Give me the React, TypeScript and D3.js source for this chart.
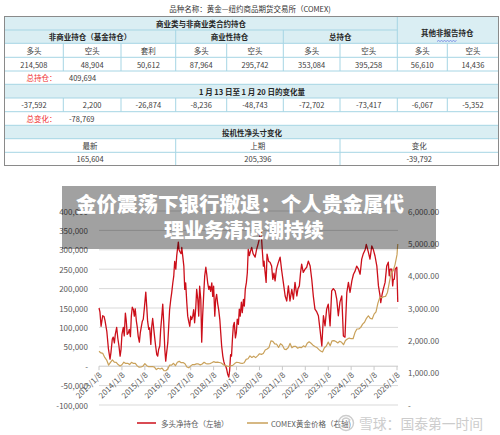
import React from "react";
import * as d3 from "d3";

// ---------- table data ----------
const tableTitle = "品种名称：黄金—纽约商品期货交易所（COMEX)";
const groupTop = "商业类与非商业类合约持仓";
const groupOther = "其他非报告持仓";
const groupHeaders = ["非商业持仓（基金持仓）", "商业性持仓", "总持仓"];
const colHeaders = ["多头", "空头", "套利", "多头", "空头", "多头", "空头", "多头", "空头"];
const positions = [214508, 48904, 50612, 87964, 295742, 353084, 395258, 56610, 14436];
const totalLabel = "总持仓：";
const totalPositions = 409694;
const changeTitle = "1 月 13 日至 1 月 20 日的变化量";
const changes = [-37592, 2200, -26874, -8236, -48743, -72702, -73417, -6067, -5352];
const totalChangeLabel = "总变化：";
const totalChange = -78769;
const netTitle = "投机性净头寸变化";
const netHeaders = ["最新", "上期", "变化"];
const netSummary = [165604, 205396, -39792];

const headline = ["金价震荡下银行撤退：个人贵金属代", "理业务清退潮持续"];

// ---------- chart data ----------
const leftTicks = [-100000, -50000, 0, 50000, 100000, 150000, 200000, 250000, 300000, 350000, 400000];
const rightTicks = [0, 1000, 2000, 3000, 4000, 5000, 6000];
const yearTicks = [2013, 2014, 2015, 2016, 2017, 2018, 2019, 2020, 2021, 2022, 2023, 2024, 2025, 2026];
const legendNames = ["多头净持仓（左轴）", "COMEX黄金价格（右轴)"];
const watermark = "雪球：国泰第一时间";

// net long (contracts), decimal-year dates
const netYears = [
  2013.02, 2013.06, 2013.11, 2013.18, 2013.24, 2013.28, 2013.36, 2013.43, 2013.5, 2013.54, 2013.6, 2013.64, 2013.69, 2013.73, 2013.79, 2013.84, 2013.89, 2013.94, 2013.98,
  2014.02, 2014.08, 2014.12, 2014.17, 2014.21, 2014.25, 2014.3, 2014.34, 2014.39, 2014.43, 2014.47, 2014.52, 2014.56, 2014.6, 2014.65, 2014.69, 2014.73, 2014.78, 2014.82, 2014.87, 2014.91, 2014.95,
  2015.0, 2015.06, 2015.1, 2015.14, 2015.19, 2015.23, 2015.28, 2015.32, 2015.36, 2015.41, 2015.45, 2015.49, 2015.54, 2015.58, 2015.62, 2015.67, 2015.71, 2015.76, 2015.8, 2015.84, 2015.89, 2015.93, 2015.97,
  2016.02, 2016.06, 2016.1, 2016.15, 2016.19, 2016.24, 2016.28, 2016.32, 2016.37, 2016.41, 2016.45, 2016.48, 2016.51, 2016.55, 2016.6, 2016.63, 2016.67, 2016.72, 2016.76, 2016.8, 2016.85, 2016.89, 2016.93, 2016.98,
  2017.02, 2017.06, 2017.11, 2017.15, 2017.19, 2017.24, 2017.28, 2017.33, 2017.37, 2017.41, 2017.46, 2017.5, 2017.54, 2017.59, 2017.63, 2017.68, 2017.72, 2017.76, 2017.81, 2017.85, 2017.89, 2017.94, 2017.98,
  2018.02, 2018.07, 2018.11, 2018.15, 2018.2, 2018.24, 2018.29, 2018.33, 2018.37, 2018.42, 2018.46, 2018.5, 2018.55, 2018.59, 2018.63, 2018.68, 2018.72, 2018.76, 2018.8, 2018.84, 2018.88, 2018.92, 2018.97,
  2019.01, 2019.05, 2019.1, 2019.14, 2019.18, 2019.23, 2019.27, 2019.32, 2019.36, 2019.4, 2019.45, 2019.49, 2019.53, 2019.58, 2019.62, 2019.68, 2019.74, 2019.83, 2019.89, 2019.96,
  2020.01, 2020.09, 2020.14, 2020.19, 2020.22, 2020.26, 2020.31, 2020.35, 2020.42, 2020.48, 2020.55, 2020.6, 2020.65, 2020.7, 2020.76, 2020.83, 2020.92, 2020.99,
  2021.06, 2021.14, 2021.21, 2021.28, 2021.35, 2021.43, 2021.5, 2021.57, 2021.65, 2021.7, 2021.76, 2021.81, 2021.86, 2021.93,
  2022.01, 2022.08, 2022.15, 2022.23, 2022.3, 2022.37, 2022.44, 2022.52, 2022.59, 2022.66, 2022.74, 2022.81, 2022.88, 2022.95,
  2023.02, 2023.1, 2023.17, 2023.24, 2023.32, 2023.39, 2023.46, 2023.53, 2023.61, 2023.68, 2023.75, 2023.83, 2023.9, 2023.97,
  2024.05, 2024.12, 2024.19, 2024.26, 2024.34, 2024.41, 2024.48, 2024.55, 2024.63, 2024.68, 2024.77, 2024.84, 2024.92, 2024.99,
  2025.06, 2025.14, 2025.21, 2025.28, 2025.31, 2025.37, 2025.42, 2025.5, 2025.57, 2025.64, 2025.68, 2025.72, 2025.79, 2025.83, 2025.86, 2025.9, 2025.94,
  2026.01, 2026.035, 2026.053,
];
const netLongs = [
  150000, 140000, 103000, 130000, 128000, 118000, 90000, 45000, 18000, 35000, 70000, 75000, 60000, 82000, 100000, 72000, 52000, 26000, 43000,
  82000, 100000, 78000, 137000, 116000, 82000, 86000, 95000, 76000, 129000, 152000, 146000, 129000, 148000, 116000, 100000, 77000, 62000, 86000, 103000, 116000, 121000,
  151000, 191000, 155000, 116000, 95000, 99000, 56000, 103000, 123000, 95000, 73000, 52000, 30000, 26000, 43000, 52000, 95000, 129000, 160000, 116000, 43000, 13000, 35000,
  60000, 103000, 146000, 172000, 189000, 215000, 232000, 270000, 250000, 285000, 305000, 320000, 300000, 295000, 290000, 306000, 285000, 258000, 198000, 215000, 163000, 129000, 116000, 103000,
  129000, 120000, 129000, 146000, 112000, 150000, 198000, 172000, 129000, 206000, 172000, 62000, 129000, 189000, 232000, 255000, 237000, 215000, 198000, 206000, 193000, 215000, 180000,
  206000, 129000, 172000, 185000, 160000, 146000, 120000, 86000, 52000, 26000, 13000, 4000, 0, -8000, -20000, -28000, -10000, 30000, 26000, 70000, 104000, 113000, 73000,
  86000, 121000, 108000, 147000, 129000, 165000, 138000, 172000, 155000, 198000, 216000, 241000, 301000, 285000, 295000, 306000, 290000, 281000, 300000, 315000,
  327000, 349000, 301000, 258000, 271000, 245000, 216000, 289000, 270000, 268000, 258000, 224000, 240000, 220000, 250000, 265000, 281000, 246000,
  216000, 181000, 168000, 207000, 168000, 198000, 173000, 216000, 181000, 200000, 207000, 240000, 263000, 242000,
  250000, 255000, 271000, 258000, 224000, 180000, 147000, 140000, 130000, 95000, 52000, 130000, 104000, 147000,
  160000, 104000, 194000, 200000, 194000, 173000, 130000, 165000, 181000, 78000, 75000, 190000, 216000, 190000,
  220000, 237000, 245000, 258000, 250000, 237000, 276000, 290000, 300000, 314000, 294000, 276000, 310000, 300000,
  284000, 258000, 207000, 181000, 164000, 185000, 198000, 216000, 258000, 268000, 233000, 250000, 250000, 207000, 224000, 224000, 250000,
  255000, 205396, 165604,
];

// COMEX gold, monthly from Jan 2013 (USD/oz)
const goldStartYear = 2013.02;
const goldMonthly = [
  1660, 1610, 1595, 1470, 1390, 1235, 1320, 1395, 1325, 1320, 1250, 1205,
  1245, 1325, 1285, 1290, 1250, 1320, 1285, 1285, 1210, 1170, 1175, 1200,
  1280, 1215, 1185, 1185, 1190, 1170, 1095, 1135, 1115, 1140, 1065, 1060,
  1115, 1235, 1235, 1290, 1215, 1320, 1350, 1310, 1315, 1275, 1175, 1150,
  1210, 1250, 1250, 1270, 1270, 1240, 1270, 1320, 1280, 1270, 1275, 1305,
  1340, 1320, 1325, 1315, 1300, 1250, 1225, 1200, 1190, 1215, 1225, 1280,
  1320, 1315, 1295, 1285, 1305, 1410, 1430, 1520, 1470, 1510, 1465, 1520,
  1585, 1565, 1595, 1700, 1730, 1780, 1985, 1970, 1890, 1880, 1780, 1895,
  1850, 1730, 1715, 1770, 1905, 1770, 1815, 1815, 1755, 1785, 1775, 1830,
  1795, 1910, 1955, 1910, 1850, 1810, 1780, 1720, 1670, 1640, 1770, 1825,
  1945, 1830, 1985, 1990, 1965, 1920, 1970, 1940, 1865, 1995, 2040, 2070,
  2050, 2050, 2240, 2350, 2350, 2400, 2500, 2560, 2680, 2760, 2680, 2660,
  2810, 2880, 3150, 3330, 3320, 3350, 3360, 3480, 3800, 4100, 4150, 4350,
  4650,
];
const goldLast = { year: 2026.053, price: 4980 };

// ---------- layout ----------
const FONT = "'Noto Sans CJK SC', 'Noto Sans', sans-serif";
const TX = [4.5, 63.3, 121, 175.7, 226.7, 283.3, 340, 397.3, 447.3, 498.5];
const TY = [16.5, 30, 43.3, 57.3, 71, 84.3, 98, 111.7, 125.3, 138.7, 152.3, 165.5];
const BLUE = "#daeef3";
const LINE = "#a6d5e4";

const fmt = d3.formatLocale({ decimal: ".", thousands: ",", grouping: [3], currency: ["", ""], minus: "-" });
const fInt = fmt.format(",");
const fDec = fmt.format(",.2f");

export default function App() {
  const x = d3.scaleLinear().domain([2013 + 7 / 365, 2026 + 7 / 365]).range([99, 397]);
  const yL = d3.scaleLinear().domain([-100000, 400000]).range([405, 211]);
  const yR = d3.scaleLinear().domain([0, 6000]).range([405, 211]);

  const netData = netYears.map((t, i) => [t, netLongs[i]] as [number, number]);
  const goldData = goldMonthly.map((p, i) => [goldStartYear + i / 12, p] as [number, number]);
  goldData.push([goldLast.year, goldLast.price]);

  const netLine = d3.line<[number, number]>().x((d) => x(d[0])).y((d) => yL(d[1]));
  const goldLine = d3.line<[number, number]>().x((d) => x(d[0])).y((d) => yR(d[1]));

  const rowMid = (r: number) => (TY[r] + TY[r + 1]) / 2;
  const colMid = (c: number) => (TX[c] + TX[c + 1]) / 2;
  const y0 = yL(0);

  const cellText = { fontFamily: FONT, fontSize: 7.5, fill: "#404040" } as const;
  const boldText = { fontFamily: FONT, fontSize: 7.5, fill: "#262626", fontWeight: 700 } as const;

  const vlines: JSX.Element[] = [];
  // row 1 (index 1) group dividers
  [3, 5].forEach((c) => vlines.push(<line key={"g" + c} x1={TX[c]} x2={TX[c]} y1={TY[1]} y2={TY[2]} stroke={LINE} />));
  vlines.push(<line key="oth" x1={TX[7]} x2={TX[7]} y1={TY[0]} y2={TY[2]} stroke={LINE} />);
  [2, 3, 6].forEach((r) =>
    TX.slice(1, 9).forEach((cx, i) =>
      vlines.push(<line key={`v${r}-${i}`} x1={cx} x2={cx} y1={TY[r]} y2={TY[r + 1]} stroke={LINE} />)
    )
  );
  [9, 10].forEach((r) =>
    [TX[3], TX[6]].forEach((cx, i) =>
      vlines.push(<line key={`n${r}-${i}`} x1={cx} x2={cx} y1={TY[r]} y2={TY[r + 1]} stroke={LINE} />)
    )
  );

  const netCols = [
    (TX[0] + TX[3]) / 2,
    (TX[3] + TX[6]) / 2,
    (TX[6] + TX[9]) / 2,
  ];

  return (
    <div style={{ position: "absolute", left: 0, top: 0, width: 500, height: 435 }}>
      <svg width={500} height={435} style={{ display: "block", background: "#fff" }}>
        <rect x={0} y={0} width={500} height={435} fill="#ffffff" />
        {/* ---------- table ---------- */}
        <text x={250} y={8} textAnchor="middle" dominantBaseline="central" {...cellText} fill="#333">
          {tableTitle}
        </text>
        <rect x={TX[0]} y={TY[0]} width={TX[9] - TX[0]} height={TY[2] - TY[0]} fill={BLUE} />
        <rect x={TX[0]} y={TY[5]} width={TX[9] - TX[0]} height={TY[6] - TY[5]} fill={BLUE} />
        <rect x={TX[0]} y={TY[8]} width={TX[9] - TX[0]} height={TY[9] - TY[8]} fill={BLUE} />
        {TY.slice(1, 11).map((yy, i) => (
          <line key={"h" + i} x1={TX[0]} x2={i === 0 ? TX[7] : TX[9]} y1={yy} y2={yy} stroke={LINE} />
        ))}
        {vlines}
        <rect x={TX[0]} y={TY[0]} width={TX[9] - TX[0]} height={TY[11] - TY[0]} fill="none" stroke="#8a8a8a" />
        <text x={(TX[0] + TX[7]) / 2} y={rowMid(0)} textAnchor="middle" dominantBaseline="central" {...boldText}>
          {groupTop}
        </text>
        <text x={colMid(7) + 25} y={(TY[0] + TY[2]) / 2 + 3} textAnchor="middle" dominantBaseline="central" {...boldText}>
          {groupOther}
        </text>
        <path d="M437,41.5 l1.5,-1 l1.5,1 l1.5,-1 l1.5,1 l1.5,-1 l1.5,1 l1.5,-1 l1.5,1 l1.5,-1 l1.5,1 l1.5,-1 l1.5,1 l1.5,-1" fill="none" stroke="#5b6fe0" strokeWidth={0.7} />
        {groupHeaders.map((g, i) => {
          const a = [0, 3, 5][i];
          const b = [3, 5, 7][i];
          return (
            <text key={g} x={(TX[a] + TX[b]) / 2} y={rowMid(1)} textAnchor="middle" dominantBaseline="central" {...boldText}>
              {g}
            </text>
          );
        })}
        {colHeaders.map((h, i) => (
          <text key={"ch" + i} x={colMid(i)} y={rowMid(2)} textAnchor="middle" dominantBaseline="central" {...cellText}>
            {h}
          </text>
        ))}
        {positions.map((v, i) => (
          <text key={"pv" + i} x={colMid(i)} y={rowMid(3)} textAnchor="middle" dominantBaseline="central" {...cellText}>
            {fInt(v)}
          </text>
        ))}
        <text x={41.5} y={rowMid(4)} textAnchor="middle" dominantBaseline="central" {...cellText} fill="#f03030">
          {totalLabel}
        </text>
        <text x={69} y={rowMid(4)} dominantBaseline="central" {...cellText}>
          {fInt(totalPositions)}
        </text>
        <text x={252} y={rowMid(5)} textAnchor="middle" dominantBaseline="central" {...boldText}>
          {changeTitle}
        </text>
        {changes.map((v, i) => (
          <text key={"cv" + i} x={colMid(i)} y={rowMid(6)} textAnchor="middle" dominantBaseline="central" {...cellText}>
            {fInt(v)}
          </text>
        ))}
        <text x={41.5} y={rowMid(7)} textAnchor="middle" dominantBaseline="central" {...cellText} fill="#f03030">
          {totalChangeLabel}
        </text>
        <text x={69} y={rowMid(7)} dominantBaseline="central" {...cellText}>
          {fInt(totalChange)}
        </text>
        <text x={252} y={rowMid(8)} textAnchor="middle" dominantBaseline="central" {...boldText}>
          {netTitle}
        </text>
        {netHeaders.map((h, i) => (
          <text key={"nh" + i} x={netCols[i]} y={rowMid(9)} textAnchor="middle" dominantBaseline="central" {...cellText}>
            {h}
          </text>
        ))}
        {netSummary.map((v, i) => (
          <text key={"nv" + i} x={netCols[i]} y={rowMid(10)} textAnchor="middle" dominantBaseline="central" {...cellText}>
            {fInt(v)}
          </text>
        ))}

        {/* ---------- chart ---------- */}
        {leftTicks.map((t) => (
          <line key={"gl" + t} x1={99} x2={398} y1={yL(t)} y2={yL(t)} stroke={t === 0 ? "#c8c8c8" : "#d9d9d9"} strokeWidth={1} />
        ))}
        {yearTicks.map((yr) => (
          <line key={"tk" + yr} x1={x(yr + 7 / 365)} x2={x(yr + 7 / 365)} y1={y0} y2={y0 + 4} stroke="#c8c8c8" />
        ))}
        {leftTicks.map((t) => (
          <text key={"lt" + t} x={88} y={yL(t)} textAnchor="end" dominantBaseline="central" fontFamily={FONT} fontSize={8} fill="#595959">
            {t === 0 ? "-" : fInt(t)}
          </text>
        ))}
        {rightTicks.map((t) => (
          <text key={"rt" + t} x={408} y={yR(t)} dominantBaseline="central" fontFamily={FONT} fontSize={8} fill="#595959">
            {t === 0 ? "-" : fDec(t)}
          </text>
        ))}
        {yearTicks.map((yr) => (
          <text
            key={"xl" + yr}
            transform={`translate(${x(yr + 7 / 365) + 1},${y0 + 7}) rotate(-45)`}
            textAnchor="end"
            dominantBaseline="central"
            fontFamily={FONT}
            fontSize={8}
            fill="#595959"
          >
            {`${yr}/1/8`}
          </text>
        ))}
        <path d={netLine(netData) || ""} fill="none" stroke="#cc0f1a" strokeWidth={1.3} strokeLinejoin="round" />
        <path d={goldLine(goldData) || ""} fill="none" stroke="#c9a15a" strokeWidth={1.2} strokeLinejoin="round" />

        {/* legend */}
        <line x1={137} x2={156} y1={423} y2={423} stroke="#cc0f1a" strokeWidth={1.5} />
        <text x={161} y={423} dominantBaseline="central" fontFamily={FONT} fontSize={7.5} fill="#595959">
          {legendNames[0]}
        </text>
        <line x1={247} x2={268} y1={423} y2={423} stroke="#c9a15a" strokeWidth={1.5} />
        <text x={271} y={423} dominantBaseline="central" fontFamily={FONT} fontSize={7.5} fill="#595959">
          {legendNames[1]}
        </text>

        {/* watermark */}
        <g opacity={0.85}>
          <circle cx={346} cy={423} r={7.5} fill="none" stroke="#c4c4c4" strokeWidth={1.4} />
          <path d="M342,420 q4,-4 8,0 q-4,3 -8,6" fill="none" stroke="#c4c4c4" strokeWidth={1.2} />
          <text x={359} y={423} dominantBaseline="central" fontFamily={FONT} fontSize={13.8} fill="#c4c4c4">
            {watermark}
          </text>
        </g>

        {/* headline overlay */}
        <rect x={62} y={186} width={374} height={63} fill="rgba(0,0,0,0.37)" />
        <text x={240} y={203} textAnchor="middle" dominantBaseline="central" fontFamily={FONT} fontSize={20.5} fontWeight={900} fill="#ffffff">
          {headline[0]}
        </text>
        <text x={244} y={229} textAnchor="middle" dominantBaseline="central" fontFamily={FONT} fontSize={20} fontWeight={900} fill="#ffffff">
          {headline[1]}
        </text>
      </svg>
    </div>
  );
}
